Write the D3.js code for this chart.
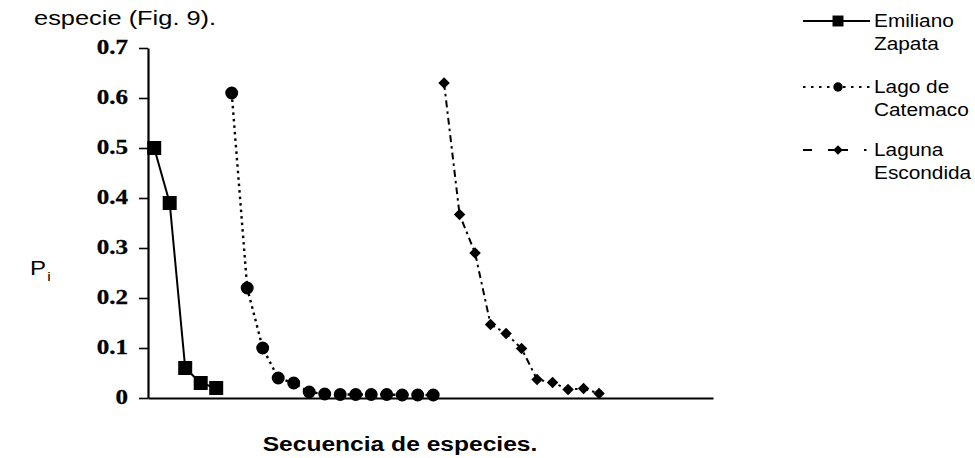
<!DOCTYPE html>
<html>
<head>
<meta charset="utf-8">
<script src="https://cdn.jsdelivr.net/npm/d3@7.9.0/dist/d3.min.js"></script>
<style>
  body { margin: 0; background: #fff; }
  svg { display: block; }
</style>
</head>
<body>
<div id="chart"></div>
<script>
// ---------------------------------------------------------
// Data
// ---------------------------------------------------------
const yTicks = [0, 0.1, 0.2, 0.3, 0.4, 0.5, 0.6, 0.7];

// position in the species sequence
const zapataX = [1, 2, 3, 4, 5];
const zapataPi = [0.50, 0.39, 0.06, 0.03, 0.02];

const catemacoX = [6, 7, 8, 9, 10, 11, 12, 13, 14, 15, 16, 17, 18, 19];
const catemacoPi = [0.61, 0.22, 0.10, 0.04, 0.03, 0.012, 0.008, 0.007, 0.007, 0.007, 0.007, 0.006, 0.006, 0.006];

const lagunaX = [19.7, 20.7, 21.7, 22.7, 23.7, 24.7, 25.7, 26.7, 27.7, 28.7, 29.7];
const lagunaPi = [0.63, 0.367, 0.29, 0.147, 0.129, 0.099, 0.037, 0.031, 0.017, 0.019, 0.009];

const legendLabels = [["Emiliano", "Zapata"], ["Lago de", "Catemaco"], ["Laguna", "Escondida"]];

const headText = "especie (Fig. 9).";
const yTitle = "P";
const yTitleSub = "i";
const xTitle = "Secuencia de especies.";

// ---------------------------------------------------------
// Layout
// ---------------------------------------------------------
const width = 975;
const height = 458;
const sans = "'Liberation Sans', Arial, sans-serif";
const serif = "'Liberation Serif', 'Times New Roman', serif";
const sx = 1.2; // the scan is stretched horizontally

const svg = d3.select("#chart")
  .append("svg")
  .attr("width", width)
  .attr("height", height);

svg.append("rect").attr("width", width).attr("height", height).attr("fill", "#fff");

const x = d3.scaleLinear().domain([0.6, 37.05]).range([148, 713]);
const y = d3.scaleLinear().domain([0, 0.7]).range([398, 48]);

// text helper: place and stretch
function put(sel, px, py, k) {
  return sel.attr("transform", `translate(${px},${py}) scale(${k},1)`);
}

// --------------------------
// Heading fragment + titles
// --------------------------
put(svg.append("text"), 34, 25, 1.24)
  .attr("font-family", sans)
  .attr("font-size", 20.5)
  .text(headText);

const yt = put(svg.append("text"), 30, 275, sx)
  .attr("font-family", sans)
  .attr("font-size", 20);
yt.append("tspan").text(yTitle);
yt.append("tspan").attr("font-size", 13).attr("dy", 6).attr("dx", 1).text(yTitleSub);

put(svg.append("text"), 400, 451, sx)
  .attr("font-family", sans)
  .attr("font-weight", "bold")
  .attr("font-size", 20.5)
  .attr("text-anchor", "middle")
  .text(xTitle);

// --------------------------
// Axes
// --------------------------
const yAxis = svg.append("g")
  .attr("transform", "translate(148,0)")
  .call(d3.axisLeft(y)
    .tickValues(yTicks)
    .tickSize(9)
    .tickSizeOuter(0)
    .tickPadding(11)
    .tickFormat(d => d === 0 ? "0" : d3.format(".1f")(d)));

yAxis.select(".domain").attr("stroke-width", 2.2);
yAxis.selectAll(".tick line").attr("stroke-width", 1.6);
yAxis.selectAll(".tick text")
  .attr("x", 0)
  .attr("transform", "translate(-20,-1) scale(1.25,1)")
  .attr("font-family", serif)
  .attr("font-weight", "bold")
  .attr("font-size", 20)
  .attr("stroke", "#000")
  .attr("stroke-width", 0.3)
  .attr("fill", "#000");

const xAxis = svg.append("g")
  .attr("transform", "translate(0,398)")
  .call(d3.axisBottom(x).tickValues([]).tickSizeOuter(0));
xAxis.select(".domain").attr("stroke-width", 1.8);

// --------------------------
// Series
// --------------------------
const series = [
  { xs: zapataX, ys: zapataPi, dash: null, width: 2, symbol: d3.symbolSquare, size: 196, rot: 0 },
  { xs: catemacoX, ys: catemacoPi, dash: "2.5,4", width: 2.4, symbol: d3.symbolCircle, size: Math.PI * 42, rot: 0 },
  { xs: lagunaX, ys: lagunaPi, dash: "7,4,2.5,4", width: 2, symbol: d3.symbolSquare, size: 66, rot: 45 }
];

const line = d3.line().x(d => x(d[0])).y(d => y(d[1]));

series.forEach(s => {
  const pts = d3.zip(s.xs, s.ys);

  svg.append("path")
    .datum(pts)
    .attr("d", line)
    .attr("fill", "none")
    .attr("stroke", "#000")
    .attr("stroke-width", s.width)
    .attr("stroke-dasharray", s.dash);

  svg.append("g")
    .selectAll("path")
    .data(pts)
    .join("path")
    .attr("d", d3.symbol(s.symbol, s.size))
    .attr("transform", d => `translate(${x(d[0])},${y(d[1])}) rotate(${s.rot})`)
    .attr("fill", "#000");
});

// --------------------------
// Legend
// --------------------------
const legendRows = [
  { y: 21, dash: null, symbol: d3.symbolSquare, size: 120, rot: 0 },
  { y: 87, dash: "2.5,5.5", symbol: d3.symbolCircle, size: Math.PI * 22, rot: 0 },
  { y: 150, dash: "9,16,20,16,2.5,10", symbol: d3.symbolSquare, size: 46, rot: 45 }
];

const legend = svg.append("g");

legendRows.forEach((r, i) => {
  legend.append("line")
    .attr("x1", 803).attr("x2", 870)
    .attr("y1", r.y).attr("y2", r.y)
    .attr("stroke", "#000")
    .attr("stroke-width", 1.8)
    .attr("stroke-dasharray", r.dash);

  legend.append("path")
    .attr("d", d3.symbol(r.symbol, r.size))
    .attr("transform", `translate(838,${r.y}) rotate(${r.rot})`)
    .attr("fill", "#000");

  legendLabels[i].forEach((txt, j) => {
    put(legend.append("text"), 874, r.y + 6 + j * 22.5, 1.19)
      .attr("font-family", sans)
      .attr("font-size", 17.5)
      .text(txt);
  });
});
</script>
</body>
</html>
